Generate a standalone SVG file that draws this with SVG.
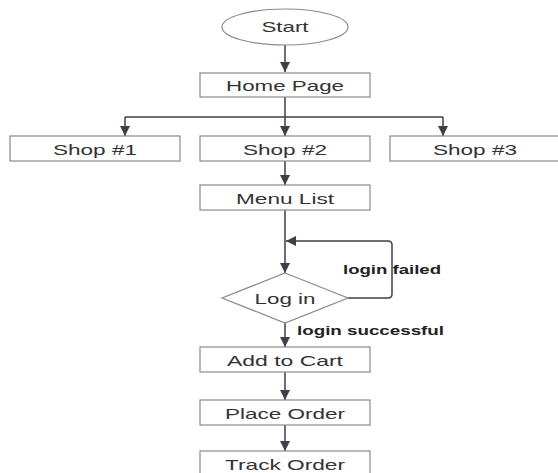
<svg xmlns="http://www.w3.org/2000/svg" width="558" height="473" viewBox="0 0 558 473">
<defs>
<style>
.box{fill:#fff;stroke:#8a8a8a;stroke-width:1.2}
.t{font-family:"Liberation Sans",Arial,sans-serif;font-size:15px;fill:#333;text-anchor:middle}
.lbl{font-family:"Liberation Sans",Arial,sans-serif;font-size:12px;font-weight:bold;fill:#222}
.c{fill:none;stroke:#3b4049;stroke-width:1.5}
</style>
<marker id="ah" viewBox="0 0 10 10" refX="10" refY="5" markerWidth="10" markerHeight="10" markerUnits="userSpaceOnUse" orient="auto">
<path d="M0,0 L10,5 L0,10 z" fill="#3b4049"/>
</marker>
</defs>
<rect width="558" height="473" fill="#fff"/>
<g id="connectors">
<path class="c" d="M285,45 V72" marker-end="url(#ah)"/>
<path class="c" d="M285,97 V117"/>
<path class="c" d="M125,117 H443"/>
<path class="c" d="M125,117 V136" marker-end="url(#ah)"/>
<path class="c" d="M285,117 V136" marker-end="url(#ah)"/>
<path class="c" d="M443,117 V136" marker-end="url(#ah)"/>
<path class="c" d="M285,161 V185" marker-end="url(#ah)"/>
<path class="c" d="M285,210 V273" marker-end="url(#ah)"/>
<path class="c" d="M348,298 H388 Q392,298 392,294 V245 Q392,241 388,241 H286" marker-end="url(#ah)"/>
<path class="c" d="M285,323 V347" marker-end="url(#ah)"/>
<path class="c" d="M285,372 V400" marker-end="url(#ah)"/>
<path class="c" d="M285,425 V451" marker-end="url(#ah)"/>
<text class="lbl" x="343" y="274" textLength="98" lengthAdjust="spacingAndGlyphs">login failed</text>
<text class="lbl" x="297" y="335" textLength="147" lengthAdjust="spacingAndGlyphs">login successful</text>
</g>
<g id="start">
<ellipse class="box" cx="285" cy="27" rx="63" ry="18"/>
<text class="t" x="285" y="32" textLength="47" lengthAdjust="spacingAndGlyphs">Start</text>
</g>
<g id="home">
<rect class="box" x="200" y="73" width="170" height="24"/>
<text class="t" x="285" y="90.5" textLength="118" lengthAdjust="spacingAndGlyphs">Home Page</text>
</g>
<g id="shop1">
<rect class="box" x="10" y="136" width="170" height="25"/>
<text class="t" x="95" y="154.5" textLength="84" lengthAdjust="spacingAndGlyphs">Shop #1</text>
</g>
<g id="shop2">
<rect class="box" x="200" y="136" width="170" height="25"/>
<text class="t" x="285" y="154.5" textLength="84" lengthAdjust="spacingAndGlyphs">Shop #2</text>
</g>
<g id="shop3">
<rect class="box" x="390" y="136" width="170" height="25"/>
<text class="t" x="475" y="154.5" textLength="84" lengthAdjust="spacingAndGlyphs">Shop #3</text>
</g>
<g id="menu">
<rect class="box" x="200" y="185" width="170" height="25"/>
<text class="t" x="285" y="203.5" textLength="98" lengthAdjust="spacingAndGlyphs">Menu List</text>
</g>
<g id="login">
<polygon class="box" points="285,273 348,298 285,323 222,298"/>
<text class="t" x="285" y="303.5" textLength="61" lengthAdjust="spacingAndGlyphs">Log in</text>
</g>
<g id="cart">
<rect class="box" x="200" y="347" width="170" height="25"/>
<text class="t" x="285" y="365.5" textLength="116" lengthAdjust="spacingAndGlyphs">Add to Cart</text>
</g>
<g id="place">
<rect class="box" x="200" y="400" width="170" height="25"/>
<text class="t" x="285" y="418.5" textLength="120" lengthAdjust="spacingAndGlyphs">Place Order</text>
</g>
<g id="track">
<rect class="box" x="200" y="451" width="170" height="25"/>
<text class="t" x="285" y="469.5" textLength="120" lengthAdjust="spacingAndGlyphs">Track Order</text>
</g>
</svg>
